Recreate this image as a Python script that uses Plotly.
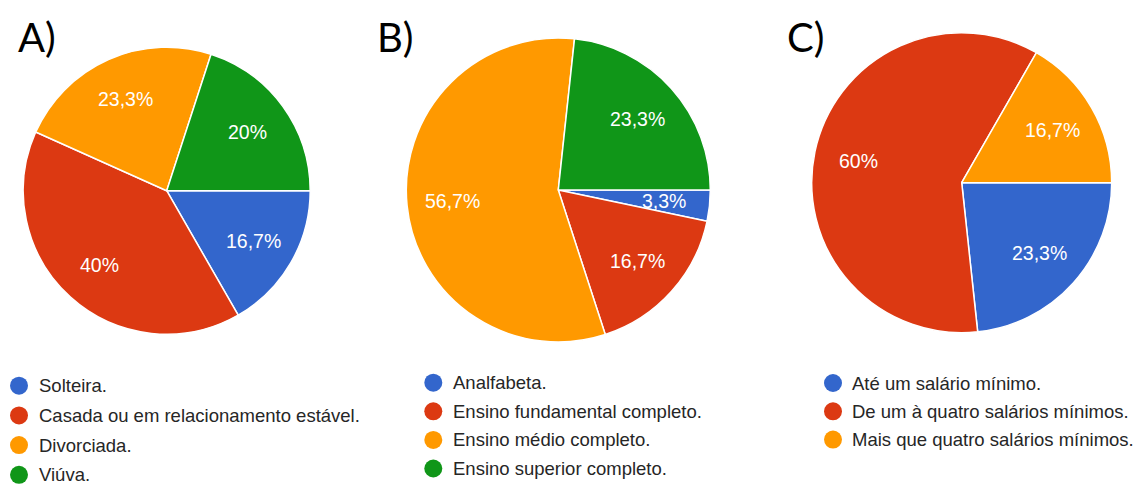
import math
import plotly.graph_objects as go

W, H = 1135, 484

# ---- data ----
panel_letters = ["A)", "B)", "C)"]

labels_a = ["Solteira.", "Casada ou em relacionamento estável.", "Divorciada.", "Viúva."]
values_a = [16.7, 40.0, 23.3, 20.0]

labels_b = ["Analfabeta.", "Ensino fundamental completo.", "Ensino médio completo.", "Ensino superior completo."]
values_b = [3.3, 16.7, 56.7, 23.3]

labels_c = ["Até um salário mínimo.", "De um à quatro salários mínimos.", "Mais que quatro salários mínimos."]
values_c = [23.3, 60.0, 16.7]

colors = ["#3366cc", "#dc3912", "#ff9900", "#109618"]

# ---- layout (pixel geometry) ----
# pie: center x, center y (from top), radius
pies = [
    (labels_a, values_a, 166.7, 190.7, 143.5),
    (labels_b, values_b, 558.3, 190.0, 152.0),
    (labels_c, values_c, 961.7, 182.7, 150.0),
]
letter_pos = [(16, 37), (375, 37), (785, 37)]
# legend: circle center x, first row y, row step, text x
legend_geo = [
    (19, 385.7, 29.7, 37),
    (433.3, 382.7, 28.6, 450.5),
    (833, 383.0, 28.3, 850),
]
LABEL_R = 0.70  # label distance from center, fraction of radius


def fmt_pct(p):
    s = f"{p:.1f}".rstrip("0").rstrip(".")
    return s.replace(".", ",") + "%"


fig = go.Figure()
annotations = []
shapes = []

for (labs, vals, cx, cy, r) in pies:
    fig.add_trace(go.Pie(
        labels=labs, values=vals, sort=False, direction="clockwise", rotation=90,
        marker=dict(colors=colors[:len(vals)], line=dict(color="white", width=1.5)),
        textinfo="none",
        domain=dict(x=[(cx - r) / W, (cx + r) / W], y=[(H - cy - r) / H, (H - cy + r) / H]),
        showlegend=False, hoverinfo="label+percent",
    ))
    # slice labels, placed along each slice's bisector (start at 3 o'clock, clockwise)
    total = sum(vals)
    cum = 0.0
    for v in vals:
        ang = 2 * math.pi * (cum + v / 2) / total
        cum += v
        lx = cx + LABEL_R * r * math.cos(ang)
        ly = cy + LABEL_R * r * math.sin(ang)
        annotations.append(dict(text=fmt_pct(100 * v / total), x=lx / W, y=1 - ly / H,
                                xref="paper", yref="paper", xanchor="center", yanchor="middle",
                                showarrow=False,
                                font=dict(family="Liberation Sans, Arial", size=19.5, color="white")))

for letter, (lx, ly) in zip(panel_letters, letter_pos):
    annotations.append(dict(text=letter, x=lx / W, y=1 - ly / H, xref="paper", yref="paper",
                            xanchor="left", yanchor="middle", showarrow=False,
                            font=dict(family="Lato", size=40, color="black")))

for (labs, vals, cx, cy, r), (mx, my0, step, tx) in zip(pies, legend_geo):
    for i, lab in enumerate(labs):
        y = my0 + i * step
        shapes.append(dict(type="circle", xref="paper", yref="paper",
                           x0=(mx - 9) / W, x1=(mx + 9) / W, y0=1 - (y + 9) / H, y1=1 - (y - 9) / H,
                           fillcolor=colors[i], line=dict(width=0)))
        annotations.append(dict(text=lab, x=tx / W, y=1 - y / H, xref="paper", yref="paper",
                                xanchor="left", yanchor="middle", showarrow=False,
                                font=dict(family="Liberation Sans, Arial", size=18.5, color="#262626")))

fig.update_layout(
    width=W, height=H, margin=dict(l=0, r=0, t=0, b=0),
    paper_bgcolor="white", plot_bgcolor="white",
    separators=",.",
    annotations=annotations, shapes=shapes,
)
fig.write_html("out.html")
